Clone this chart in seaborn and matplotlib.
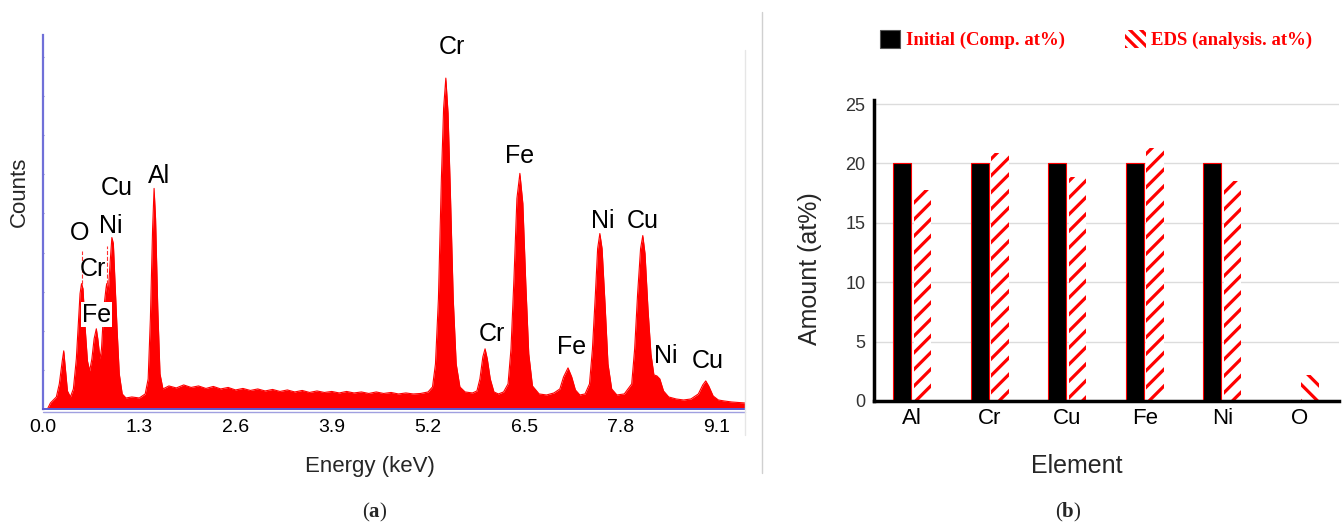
import seaborn as sns
import matplotlib.pyplot as plt
import matplotlib.patches as mpatches
from matplotlib.ticker import MultipleLocator
import pandas as pd

# (a) EDS spectrum (energy in keV, counts in arbitrary units)
energy = [0.06, 0.10, 0.18, 0.22, 0.26, 0.28, 0.30, 0.33, 0.37, 0.41, 0.45, 0.48, 0.50, 0.52,
          0.54, 0.57, 0.60, 0.63, 0.66, 0.69, 0.72, 0.74, 0.77, 0.79, 0.82, 0.85, 0.86, 0.88,
          0.91, 0.93, 0.95, 0.97, 1.00, 1.03, 1.07, 1.12, 1.20, 1.30, 1.38, 1.42, 1.45, 1.48,
          1.50, 1.52, 1.55, 1.58, 1.62, 1.70, 1.80, 1.90, 2.00, 2.10, 2.20, 2.30, 2.40, 2.50,
          2.60, 2.70, 2.80, 2.90, 3.00, 3.10, 3.20, 3.30, 3.40, 3.50, 3.60, 3.70, 3.80, 3.90,
          4.00, 4.10, 4.20, 4.30, 4.40, 4.50, 4.60, 4.70, 4.80, 4.90, 5.00, 5.10, 5.20, 5.26,
          5.30, 5.34, 5.38, 5.41, 5.44, 5.47, 5.50, 5.54, 5.58, 5.63, 5.70, 5.80, 5.86, 5.90,
          5.94, 5.97, 6.00, 6.04, 6.09, 6.15, 6.22, 6.28, 6.32, 6.36, 6.40, 6.44, 6.48, 6.52,
          6.56, 6.61, 6.70, 6.80, 6.90, 6.98, 7.03, 7.09, 7.14, 7.19, 7.25, 7.32, 7.38, 7.42,
          7.46, 7.49, 7.52, 7.55, 7.59, 7.63, 7.68, 7.75, 7.85, 7.95, 7.99, 8.03, 8.07, 8.10,
          8.13, 8.17, 8.21, 8.25, 8.29, 8.33, 8.38, 8.45, 8.55, 8.65, 8.75, 8.85, 8.91, 8.95,
          8.99, 9.05, 9.12, 9.20, 9.30, 9.48]
counts = [0, 60, 120, 250, 480, 580, 420, 180, 120, 200, 500, 900, 1150, 1250,
          1200, 800, 480, 380, 500, 700, 800, 700, 500, 600, 1000, 1200, 1250, 1150,
          1500, 1710, 1650, 1300, 800, 350, 150, 110, 120, 110, 150, 300, 900, 1800,
          2200, 1900, 1000, 350, 200, 230, 210, 240, 215, 230, 205, 225, 200, 215,
          190, 205, 185, 200, 180, 195, 175, 190, 170, 185, 165, 180, 165, 175,
          160, 175, 160, 170, 155, 170, 155, 165, 150, 160, 150, 155, 170, 220,
          450, 1100, 2300, 3000, 3300, 2950, 2200, 1100, 450, 220, 170, 160, 180, 300,
          520, 600, 500, 300, 170, 150, 170, 250, 600, 1300, 2100, 2350, 2050, 1250,
          550, 230, 150, 140, 160, 200, 320, 410, 320, 190, 140, 150, 250, 600,
          1150, 1600, 1750, 1600, 1050, 450, 200, 140, 150, 250, 600, 1150, 1600, 1730,
          1550, 1000, 550, 340, 330, 300, 180, 120, 100, 90, 100, 150, 240, 280,
          230, 130, 90, 80, 70, 60]

peak_labels = ['O', 'Ni', 'Cu', 'Cr', 'Fe', 'Al', 'Cr', 'Fe', 'Cr', 'Fe', 'Ni', 'Cu', 'Ni', 'Cu']
label_energy = [0.50, 0.92, 1.00, 0.68, 0.72, 1.57, 5.52, 6.44, 6.06, 7.14, 7.56, 8.10, 8.41, 8.98]
label_counts = [1760, 1830, 2200, 1400, 940, 2320, 3610, 2520, 750, 620, 1870, 1870, 530, 480]
energy_ticks = [0.0, 1.3, 2.6, 3.9, 5.2, 6.5, 7.8, 9.1]

# (b) composition
elements = ['Al', 'Cr', 'Cu', 'Fe', 'Ni', 'O']
initial = [20, 20, 20, 20, 20, 0]
eds = [17.8, 20.9, 18.9, 21.3, 18.5, 2.2]

df = pd.DataFrame({
    'Element': elements * 2,
    'Amount': initial + eds,
    'Source': ['Initial'] * len(elements) + ['EDS'] * len(elements),
})

sns.set_theme(style='white')
plt.rcParams['font.family'] = ['Liberation Sans', 'DejaVu Sans']
plt.rcParams['hatch.color'] = 'red'
plt.rcParams['hatch.linewidth'] = 2.3
plt.rcParams['mathtext.fontset'] = 'custom'
plt.rcParams['mathtext.rm'] = 'Liberation Serif'
plt.rcParams['mathtext.bf'] = 'Liberation Serif:bold'

fig = plt.figure(figsize=(13.44, 5.3), dpi=100)

# ---------- panel (a) ----------
ax1 = fig.add_axes([0.032, 0.2283, 0.5223, 0.7057])
spec = pd.DataFrame({'Energy': energy, 'Counts': counts})
ax1.fill_between(spec['Energy'], spec['Counts'], color='#ff0000', lw=0)
sns.lineplot(data=spec, x='Energy', y='Counts', color='#ff0000', lw=0.8, ax=ax1)
# thin line markers over O and Ni L lines
ax1.vlines([0.53, 0.87], [1250, 1250], [1580, 1630], color='#ff3030', lw=0.8, linestyles='--')

for t, x, y in zip(peak_labels, label_energy, label_counts):
    kw = {}
    if t == 'Fe' and x < 1:
        kw['bbox'] = dict(facecolor='white', edgecolor='none', pad=0.5)
    ax1.text(x, y, t, ha='center', va='center', fontsize=18, color='black', **kw)

ax1.set_xlim(0, 9.48)
ax1.set_ylim(0, 3730)
ax1.set_xticks(energy_ticks)
ax1.set_xticklabels([f'{v:.1f}' for v in energy_ticks])
ax1.yaxis.set_major_locator(MultipleLocator(390))
ax1.set_yticklabels([])
ax1.tick_params(axis='x', length=3, width=0.8, color='#8080c0', labelsize=14, pad=4, labelcolor='black')
ax1.tick_params(axis='y', length=2, width=0.8, color='#8080c0', direction='inout', left=True)
for s in ['top', 'right']:
    ax1.spines[s].set_visible(False)
ax1.spines['left'].set_color('#7070d8')
ax1.spines['left'].set_linewidth(1.6)
ax1.spines['bottom'].set_color('#5a5ad0')
ax1.spines['bottom'].set_linewidth(1.4)
ax1.plot([0, 1], [-0.009, -0.009], transform=ax1.transAxes, clip_on=False, color='#a0a0e0', lw=1)
ax1.set_xlabel('Energy (keV)', fontsize=16)
ax1.set_ylabel('Counts', fontsize=16)
ax1.xaxis.set_label_coords(0.466, -0.125)
ax1.yaxis.set_label_coords(-0.019, 0.58)

# ---------- panel (b) ----------
ax2 = fig.add_axes([0.650, 0.2434, 0.346, 0.5679])
sns.barplot(data=df, x='Element', y='Amount', hue='Source', hue_order=['Initial', 'EDS'],
            palette={'Initial': 'black', 'EDS': 'white'}, width=0.52, gap=0.12,
            legend=False, ax=ax2)
for bar in ax2.containers[0]:
    bar.set_edgecolor('red')
    bar.set_linewidth(0.8)
for el, bar in zip(elements, ax2.containers[1]):
    bar.set_edgecolor('red')
    bar.set_linewidth(0)
    bar.set_hatch('\\\\' if el == 'O' else '//')

ax2.set_ylim(0, 25.34)
ax2.set_yticks([0, 5, 10, 15, 20, 25])
ax2.grid(axis='y', color='#dcdcdc', lw=1)
ax2.set_axisbelow(True)
for s in ['top', 'right']:
    ax2.spines[s].set_visible(False)
for s in ['left', 'bottom']:
    ax2.spines[s].set_color('black')
    ax2.spines[s].set_linewidth(2.5)
ax2.tick_params(axis='y', length=0, labelsize=13, labelcolor='#333333', pad=6)
ax2.tick_params(axis='x', length=0, labelsize=16, labelcolor='black', pad=5)
ax2.set_xlabel('Element', fontsize=18)
ax2.set_ylabel('Amount (at%)', fontsize=18)
ax2.xaxis.set_label_coords(0.437, -0.175)
ax2.yaxis.set_label_coords(-0.112, 0.44)

handles = [mpatches.Patch(facecolor='black', edgecolor='#555555', lw=0.8),
           mpatches.Patch(facecolor='white', edgecolor='red', lw=0, hatch='\\\\\\')]
leg = fig.legend(handles, ['Initial (Comp. at%)', 'EDS (analysis. at%)'], loc='center',
                 bbox_to_anchor=(0.8155, 0.925), ncol=2, frameon=False, handlelength=1.1,
                 handleheight=1.1, handletextpad=0.3, columnspacing=3.2,
                 prop={'family': 'Liberation Serif', 'weight': 'bold', 'size': 13.5})
for txt in leg.get_texts():
    txt.set_color('red')

# separators and panel letters
fig.add_artist(plt.Line2D([745 / 1344, 745 / 1344], [1 - 50 / 530, 1 - 435 / 530], color='#e6e6e6', lw=1))
fig.add_artist(plt.Line2D([762 / 1344, 762 / 1344], [1 - 12 / 530, 1 - 473 / 530], color='#d0d0d0', lw=1))
fig.text(375 / 1344, 1 - 512 / 530, r'($\mathbf{a}$)', ha='center', va='center', fontsize=15,
         family='Liberation Serif')
fig.text(1068 / 1344, 1 - 512 / 530, r'($\mathbf{b}$)', ha='center', va='center', fontsize=15,
         family='Liberation Serif')

fig.savefig('out.png', dpi=100, facecolor='white')
